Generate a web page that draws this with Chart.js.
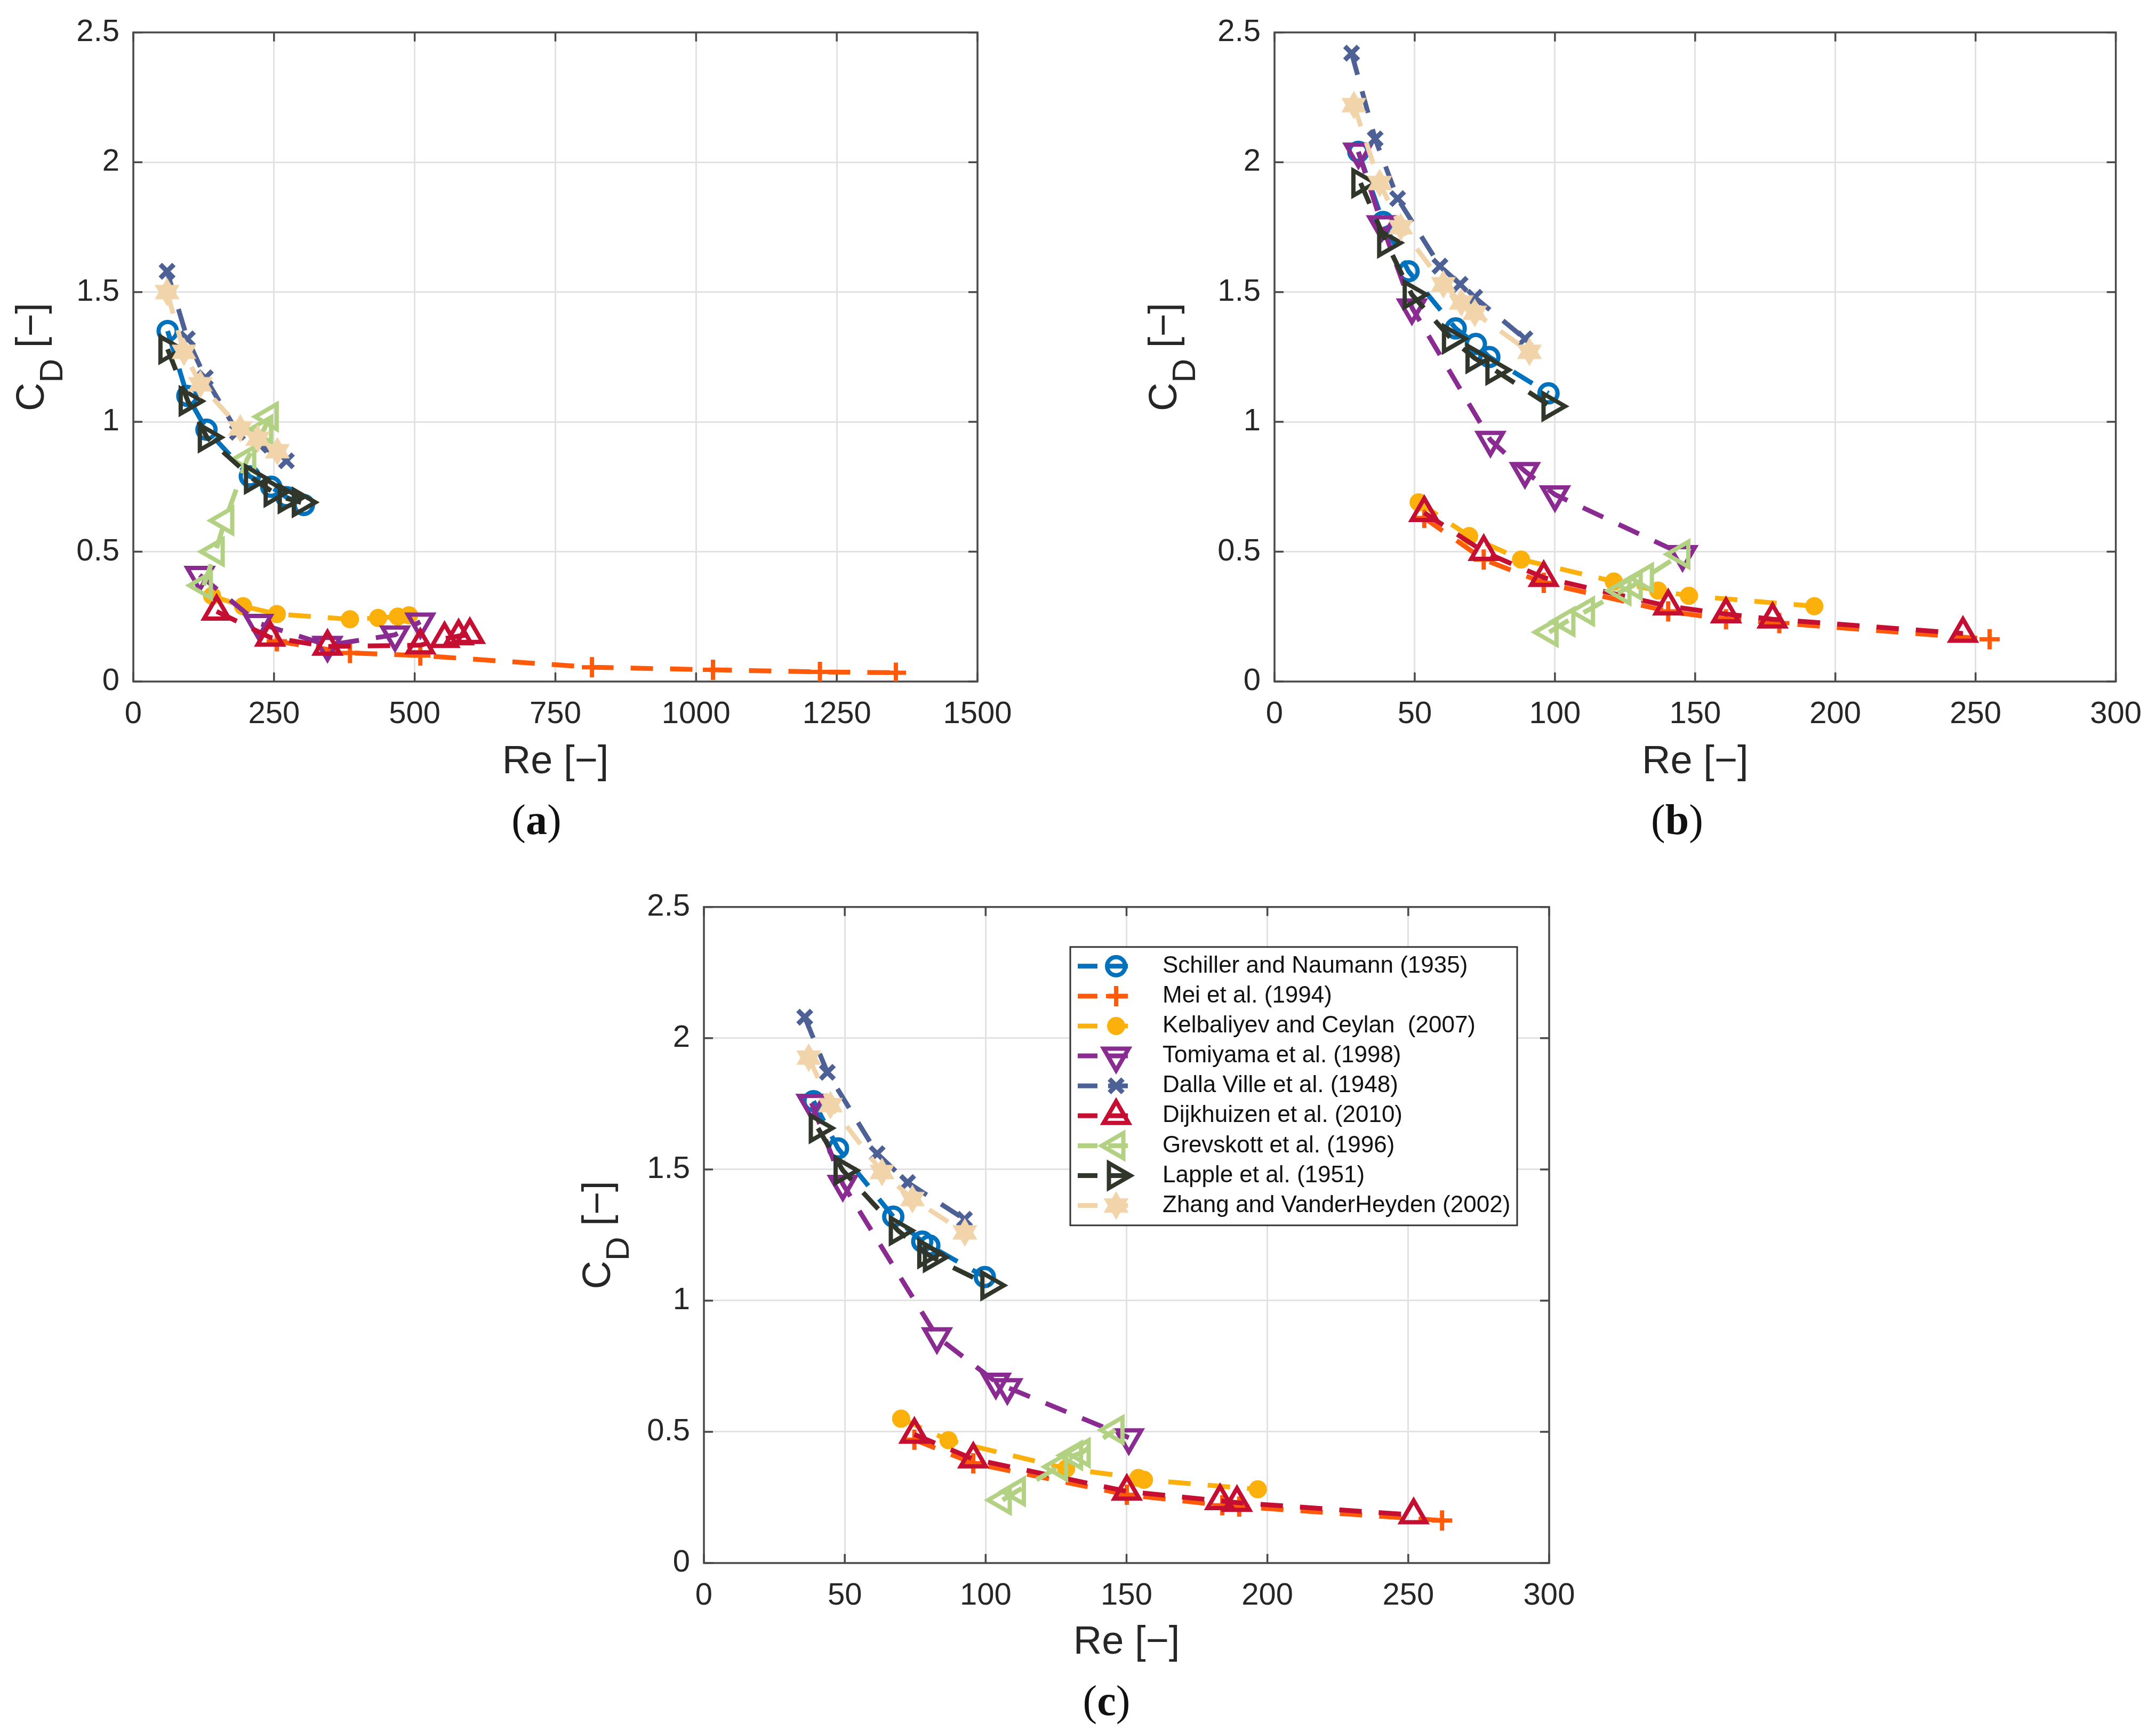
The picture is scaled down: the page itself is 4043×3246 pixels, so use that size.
<!DOCTYPE html>
<html>
<head>
<meta charset="utf-8">
<script src="https://cdn.jsdelivr.net/npm/chart.js@4.4.1/dist/chart.umd.min.js"></script>
<style>
  html, body { margin:0; padding:0; background:#fff; }
  #page { position:relative; width:4043px; height:3246px; overflow:hidden; background:#fff; }
  canvas { position:absolute; }
  .cap { position:absolute; font-family:'Liberation Serif','Times New Roman',serif; font-size:80px; color:#111;
         transform:translate(-50%,-50%); white-space:nowrap; line-height:1; }
</style>
</head>
<body>
<div id="page">
  <canvas id="ca" width="1950" height="1620" style="left:0;top:0"></canvas>
  <canvas id="cb" width="1943" height="1620" style="left:2100px;top:0"></canvas>
  <canvas id="cc" width="2000" height="1606" style="left:1000px;top:1640px"></canvas>
  <div class="cap" style="left:1006px;top:1537px">(<b>a</b>)</div>
  <div class="cap" style="left:3145px;top:1537px">(<b>b</b>)</div>
  <div class="cap" style="left:2075px;top:3189px">(<b>c</b>)</div>
</div>
<script>
// ---- data: [Re, CD] ----
const seriesNames = ['Schiller and Naumann (1935)','Mei et al. (1994)','Kelbaliyev and Ceylan  (2007)',
  'Tomiyama et al. (1998)','Dalla Ville et al. (1948)','Dijkhuizen et al. (2010)',
  'Grevskott et al. (1996)','Lapple et al. (1951)','Zhang and VanderHeyden (2002)'];

const reTicksA = [0,250,500,750,1000,1250,1500];
const reTicksBC = [0,50,100,150,200,250,300];
const cdTicks = [0,0.5,1,1.5,2,2.5];

// (a)
const schillerA = [[61,1.35],[96,1.10],[130,0.97],[207,0.79],[245,0.75],[272,0.71],[303,0.68]];
const meiA      = [[255,0.155],[385,0.11],[510,0.10],[815,0.055],[1030,0.045],[1220,0.037],[1355,0.034]];
const kelbA     = [[140,0.33],[195,0.29],[255,0.26],[385,0.24],[435,0.245],[470,0.25],[490,0.255]];
const tomiA     = [[118,0.41],[222,0.225],[345,0.14],[465,0.18],[510,0.23]];
const dallaA    = [[60,1.58],[96,1.32],[128,1.17],[185,0.96],[225,0.91],[272,0.85]];
const dijkA     = [[148,0.27],[243,0.17],[345,0.135],[510,0.14],[553,0.165],[578,0.175],[598,0.18]];
const grevA     = [[125,0.37],[146,0.50],[163,0.62],[202,0.855],[232,0.97],[242,1.02]];
const lappleA   = [[61,1.28],[97,1.08],[131,0.94],[213,0.78],[248,0.73],[273,0.705],[298,0.69]];
const zhangA    = [[60,1.50],[90,1.27],[119,1.145],[190,0.975],[221,0.935],[256,0.887]];

// (b)
const schillerB = [[29.9,2.04],[38.7,1.77],[47.8,1.58],[64.6,1.36],[71.8,1.30],[76.6,1.25],[97.7,1.11]];
const meiB      = [[53.4,0.63],[74.6,0.47],[96,0.38],[140.4,0.27],[161,0.24],[180,0.225],[255,0.163]];
const kelbB     = [[51.4,0.69],[69.4,0.56],[87.9,0.47],[121,0.385],[136.8,0.35],[147.8,0.33],[192.5,0.29]];
const tomiB     = [[29.9,2.04],[38.3,1.76],[49,1.44],[77,0.93],[89.3,0.81],[100,0.72],[145.5,0.49]];
const dallaB    = [[27.5,2.42],[35.9,2.09],[43.9,1.86],[59,1.60],[66.2,1.53],[71.4,1.48],[89.3,1.32]];
const dijkB     = [[53.4,0.65],[74.6,0.50],[96,0.40],[140.4,0.29],[161,0.26],[177.6,0.24],[245.5,0.185]];
const grevB     = [[98,0.19],[104,0.23],[111,0.27],[124,0.35],[128,0.37],[132,0.40],[145,0.49]];
const lappleB   = [[30.7,1.92],[39.9,1.69],[49,1.49],[63,1.32],[71.4,1.245],[78.5,1.20],[98.5,1.06]];
const zhangB    = [[28.3,2.22],[37.5,1.92],[45,1.75],[60.2,1.53],[66.6,1.46],[71.4,1.42],[90.9,1.27]];

// (c)
const schillerC = [[38.9,1.76],[47.6,1.58],[67.2,1.32],[77.5,1.225],[80,1.21],[99.7,1.09]];
const meiC      = [[74.7,0.47],[95.6,0.38],[150.1,0.26],[184,0.22],[190,0.215],[262,0.162]];
const kelbC     = [[70,0.55],[86.8,0.468],[128.6,0.36],[154.2,0.324],[156.2,0.317],[196.6,0.281]];
const tomiC     = [[38.2,1.753],[49.3,1.444],[82.7,0.863],[103.6,0.69],[107.7,0.669],[150.8,0.478]];
const dallaC    = [[35.8,2.08],[43.8,1.87],[61.5,1.56],[72.3,1.45],[92.5,1.31]];
const dijkC     = [[74.7,0.49],[95.6,0.396],[150.1,0.273],[183.2,0.237],[189.2,0.23],[251.9,0.183]];
const grevC     = [[106,0.24],[111,0.273],[126,0.367],[131.3,0.41],[134,0.42],[146,0.507]];
const lappleC   = [[40.5,1.657],[49.3,1.496],[68.9,1.267],[79,1.18],[81,1.165],[101.4,1.058]];
const zhangC    = [[37.2,1.926],[44.9,1.745],[63.2,1.49],[74,1.387],[92.6,1.26]];

// ---- styles ----
const FF = "'Liberation Sans', Arial, Helvetica, sans-serif";
const INK = '#262626';

function hexagram(color, R) {
  const c = document.createElement('canvas');
  const s = Math.ceil(R * 2 + 4);
  c.width = s; c.height = s;
  const g = c.getContext('2d'), m = s / 2, r = R / Math.sqrt(3);
  g.beginPath();
  for (let k = 0; k < 12; k++) {
    const ang = -Math.PI / 2 + k * Math.PI / 6, rr = k % 2 ? r : R;
    g.lineTo(m + rr * Math.cos(ang), m + rr * Math.sin(ang));
  }
  g.closePath(); g.fillStyle = color; g.fill();
  return c;
}

const STY = [
  { color:'#0072bd', ps:'circle',   r:17, rot:0 },
  { color:'#ff5a0a', ps:'cross',    r:19, rot:0 },
  { color:'#fcb00c', ps:'circle',   r:16, rot:0, fill:true, bw:2 },
  { color:'#8a2b92', ps:'triangle', r:27, rot:180 },
  { color:'#4e6196', ps:'crossRot', r:18, rot:0, bw:9 },
  { color:'#c40f33', ps:'triangle', r:27, rot:0 },
  { color:'#b2d182', ps:'triangle', r:27, rot:-90 },
  { color:'#30362a', ps:'triangle', r:27, rot:90 },
  { color:'#f1d4aa', ps:hexagram('#f1d4aa', 27), r:27, rot:0 },
];

function sets(list) {
  return list.map((pts, i) => {
    const s = STY[i];
    return {
      label: seriesNames[i],
      data: pts.map(p => ({ x:p[0], y:p[1] })),
      showLine: true, tension: 0,
      borderColor: s.color, borderWidth: 9, borderDash: [42, 32],
      pointStyle: s.ps, pointRadius: s.r, pointRotation: s.rot,
      pointBorderColor: s.color, pointBorderWidth: s.bw || 8,
      pointBackgroundColor: s.fill ? s.color : 'rgba(0,0,0,0)',
      order: 20 - i,
    };
  });
}

// box + inward ticks, like the matlab axes
const frame = {
  id: 'frame',
  beforeDatasetsDraw(chart) {
    const { ctx, chartArea: a, scales: { x, y } } = chart;
    ctx.save();
    ctx.strokeStyle = '#4a4a4a'; ctx.lineWidth = 3.5;
    ctx.strokeRect(a.left, a.top, a.right - a.left, a.bottom - a.top);
    const tl = 17;
    ctx.beginPath();
    x.ticks.forEach(t => {
      const px = x.getPixelForValue(t.value);
      ctx.moveTo(px, a.bottom); ctx.lineTo(px, a.bottom - tl);
      ctx.moveTo(px, a.top); ctx.lineTo(px, a.top + tl);
    });
    y.ticks.forEach(t => {
      const py = y.getPixelForValue(t.value);
      ctx.moveTo(a.left, py); ctx.lineTo(a.left + tl, py);
      ctx.moveTo(a.right, py); ctx.lineTo(a.right - tl, py);
    });
    ctx.stroke();
    ctx.restore();
  }
};

// C_D [-] with a real subscript
const cdTitle = {
  id: 'cdTitle',
  afterDraw(chart, args, opts) {
    const { ctx, chartArea: a } = chart;
    ctx.save();
    ctx.translate(a.left - opts.gap, (a.top + a.bottom) / 2);
    ctx.rotate(-Math.PI / 2);
    ctx.fillStyle = INK; ctx.textBaseline = 'alphabetic';
    const big = '74px ' + FF, small = '62px ' + FF;
    ctx.font = big; const w1 = ctx.measureText('C').width, w3 = ctx.measureText(' [−]').width;
    ctx.font = small; const w2 = ctx.measureText('D').width;
    const x0 = -(w1 + w2 + w3) / 2;
    ctx.font = big; ctx.fillText('C', x0, 0);
    ctx.font = small; ctx.fillText('D', x0 + w1, 35);
    ctx.font = big; ctx.fillText(' [−]', x0 + w1 + w2, 0);
    ctx.restore();
  }
};

// legend drawn inside the plot of (c)
const boxLegend = {
  id: 'boxLegend',
  afterDraw(chart) {
    const { ctx, chartArea: a } = chart;
    const L = a.left + 687, T = a.top + 75, R = a.right - 60, B = T + 522;
    ctx.save();
    ctx.fillStyle = '#fff'; ctx.fillRect(L, T, R - L, B - T);
    ctx.strokeStyle = '#333'; ctx.lineWidth = 3; ctx.strokeRect(L, T, R - L, B - T);
    chart.data.datasets.forEach((ds, i) => {
      const yy = T + 36 + 56.1 * i;
      ctx.save();
      ctx.strokeStyle = ds.borderColor; ctx.lineWidth = 9; ctx.setLineDash([37, 20]);
      ctx.beginPath(); ctx.moveTo(L + 14, yy); ctx.lineTo(L + 125, yy); ctx.stroke();
      ctx.restore();
      ctx.save();
      ctx.strokeStyle = ds.pointBorderColor; ctx.fillStyle = ds.pointBackgroundColor;
      ctx.lineWidth = ds.pointBorderWidth;
      Chart.helpers.drawPoint(ctx, { pointStyle: ds.pointStyle, rotation: ds.pointRotation,
        radius: ds.pointRadius, borderWidth: ds.pointBorderWidth }, L + 86, yy);
      ctx.restore();
      ctx.fillStyle = '#111'; ctx.font = '44px ' + FF; ctx.textBaseline = 'middle';
      ctx.fillText(ds.label, L + 173, yy);
    });
    ctx.restore();
  }
};

function makeChart(id, datasets, xTicks, o, extra) {
  return new Chart(document.getElementById(id), {
    type: 'scatter',
    data: { datasets },
    options: {
      responsive: false, animation: false, devicePixelRatio: 1, events: [],
      layout: { padding: { left: 0, top: o.top, right: o.right, bottom: o.bottom } },
      plugins: { legend: { display: false }, tooltip: { enabled: false }, cdTitle: { gap: o.gap } },
      scales: {
        x: {
          type: 'linear', min: xTicks[0], max: xTicks[xTicks.length - 1],
          afterBuildTicks: s => { s.ticks = xTicks.map(v => ({ value: v })); },
          afterFit: s => { s.height = o.xh; },
          ticks: { font: { family: FF, size: 58 }, color: INK, padding: 27, maxRotation: 0, autoSkip: false,
                   callback: v => String(v) },
          grid: { color: '#e2e2e2', lineWidth: 3, drawTicks: false },
          border: { display: false },
          title: { display: true, text: 'Re [−]', font: { family: FF, size: 74 }, color: INK, padding: 0 },
        },
        y: {
          type: 'linear', min: 0, max: 2.5,
          afterBuildTicks: s => { s.ticks = cdTicks.map(v => ({ value: v })); },
          afterFit: s => { s.width = o.yw; },
          ticks: { font: { family: FF, size: 58 }, color: INK, padding: 26, autoSkip: false,
                   callback: v => String(v) },
          grid: { color: '#e2e2e2', lineWidth: 3, drawTicks: false },
          border: { display: false },
        },
      },
    },
    plugins: [frame, cdTitle].concat(extra || []),
  });
}

makeChart('ca', sets([schillerA, meiA, kelbA, tomiA, dallaA, dijkA, grevA, lappleA, zhangA]), reTicksA,
  { top: 52, right: 117, bottom: 146, yw: 250, xh: 196, gap: 168 });
makeChart('cb', sets([schillerB, meiB, kelbB, tomiB, dallaB, dijkB, grevB, lappleB, zhangB]), reTicksBC,
  { top: 52, right: 70, bottom: 146, yw: 290, xh: 196, gap: 184 });
makeChart('cc', sets([schillerC, meiC, kelbC, tomiC, dallaC, dijkC, grevC, lappleC, zhangC]), reTicksBC,
  { top: 60, right: 95, bottom: 121, yw: 320, xh: 194, gap: 176 }, [boxLegend]);
</script>
</body>
</html>
